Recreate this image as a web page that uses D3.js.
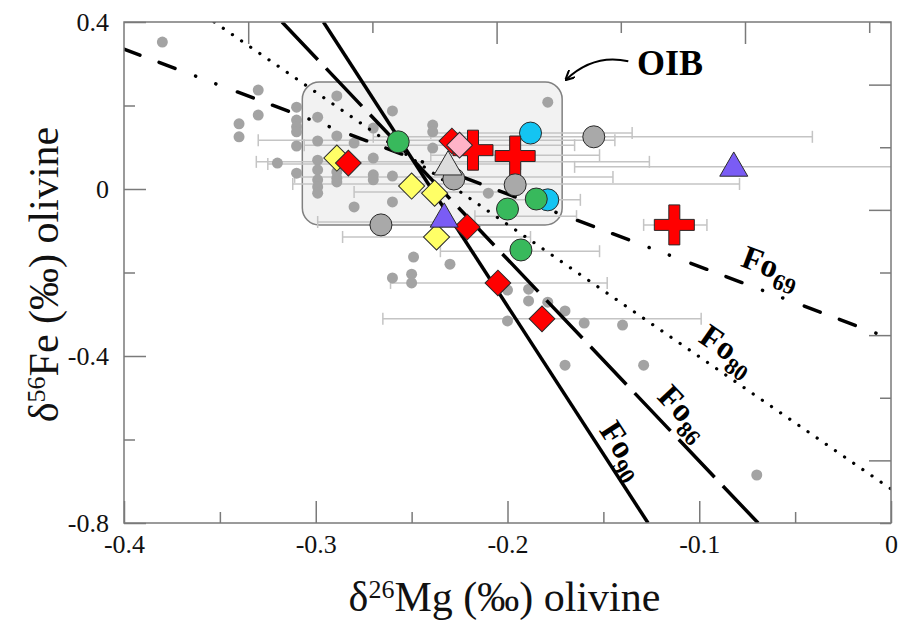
<!DOCTYPE html>
<html>
<head>
<meta charset="utf-8">
<script src="https://cdn.jsdelivr.net/npm/d3@7"></script>
<style>
  body { margin: 0; background: #fff; }
  text { font-family: "Liberation Serif", "Times New Roman", serif; }
</style>
</head>
<body>
<div id="chart"></div>
<script>
// ticks
const xTicksMajor = [-0.4, -0.3, -0.2, -0.1, 0];
const xTicksMinor = [-0.35, -0.25, -0.15, -0.05];
const yTicksMajor = [0.4, 0, -0.4, -0.8];
const yTicksMinor = [0.2, -0.2, -0.6];
// the top and right frame carry their own (unlabelled) tick scales
const topTicksMajor = [1, 3, 5];
const topTicksMinor = [2, 4, 6];
const rightTicksMajor = [1, 3, 5, 7];
const rightTicksMinor = [0, 2, 4, 6, 8];

// OIB field [x0, x1, y0, y1]
const oibBox = [-0.307, -0.1715, -0.086, 0.256];

// background olivine data (small grey dots) [d26Mg, d56Fe]
const bgDots = [
  [-0.380, 0.352], [-0.330, 0.237], [-0.330, 0.177], [-0.340, 0.156], [-0.340, 0.125],
  [-0.310, 0.196], [-0.310, 0.165], [-0.310, 0.149], [-0.310, 0.137], [-0.310, 0.103],
  [-0.299, 0.172], [-0.289, 0.223], [-0.299, 0.115], [-0.289, 0.127], [-0.270, 0.146],
  [-0.260, 0.187], [-0.320, 0.062], [-0.310, 0.038], [-0.299, 0.069], [-0.299, 0.046],
  [-0.299, 0.022], [-0.299, 0.005], [-0.299, -0.010], [-0.289, 0.041], [-0.289, 0.026],
  [-0.289, 0.017], [-0.270, 0.074], [-0.270, 0.034], [-0.270, 0.022], [-0.260, 0.031],
  [-0.239, 0.153], [-0.239, 0.137], [-0.239, 0.098], [-0.280, 0.110], [-0.280, -0.043],
  [-0.260, -0.031], [-0.179, 0.208], [-0.210, -0.010], [-0.249, -0.163], [-0.250, -0.204],
  [-0.250, -0.225], [-0.260, -0.213], [-0.230, -0.180], [-0.200, -0.316], [-0.189, -0.240],
  [-0.189, -0.268], [-0.179, -0.271], [-0.170, -0.292], [-0.160, -0.321], [-0.140, -0.326],
  [-0.170, -0.422], [-0.129, -0.422], [-0.070, -0.685], [-0.200, -0.242]
];

// horizontal 2SD error bars [d56Fe, d26Mg low, d26Mg high]
const errBars = [
  [0.125, -0.270, -0.041], [0.134, -0.240, -0.135], [0.117, -0.330, -0.144],
  [0.105, -0.306, -0.165], [0.081, -0.240, -0.152], [0.065, -0.331, -0.126],
  [0.053, -0.165, 0.010], [0.060, -0.325, -0.193], [0.029, -0.311, -0.145],
  [0.012, -0.312, -0.079], [-0.007, -0.280, -0.196], [-0.026, -0.197, -0.162],
  [-0.065, -0.217, -0.164], [-0.079, -0.299, -0.234], [-0.115, -0.286, -0.188],
  [-0.149, -0.235, -0.152], [-0.225, -0.261, -0.148], [-0.311, -0.265, -0.099],
  [-0.086, -0.129, -0.096]
];

// sample groups [d26Mg, d56Fe]
const greyCircles = [[-0.155, 0.125], [-0.228, 0.024], [-0.196, 0.010], [-0.266, -0.086]];
const greenCircles = [[-0.257, 0.113], [-0.185, -0.024], [-0.200, -0.048], [-0.193, -0.146]];
const cyanCircles = [[-0.188, 0.134], [-0.179, -0.026]];
const redDiamonds = [[-0.283, 0.062], [-0.229, 0.115], [-0.221, -0.091], [-0.205, -0.225], [-0.182, -0.311]];
const yellowDiamonds = [[-0.289, 0.074], [-0.250, 0.007], [-0.238, -0.010], [-0.237, -0.115]];
const pinkDiamonds = [[-0.225, 0.105]];
const redCrosses = [[-0.218, 0.093], [-0.196, 0.079], [-0.113, -0.086]];
const purpleTriangles = [[-0.233, -0.072], [-0.082, 0.050]];
const paleTriangles = [[-0.231, 0.053]];

// equilibrium lines, named by Fo content [x1, y1, x2, y2]
const foNames = ["90", "86", "80", "69"];
const foLines = [
  [-0.296, 0.4, -0.1267, -0.8],
  [-0.3176, 0.4, -0.0693, -0.8],
  [-0.353, 0.4, 0, -0.7186],
  [-0.4, 0.335, 0, -0.359]
];
// label anchor (start of "Fo") for each line
const foLabelAt = [[-0.1525, -0.578], [-0.1225, -0.500], [-0.1010, -0.364], [-0.0790, -0.184]];

const margin = { top: 22, right: 9, bottom: 97, left: 124 };
const width = 900 - margin.left - margin.right;
const height = 620 - margin.top - margin.bottom;

const svg = d3.select("#chart").append("svg")
  .attr("width", 900)
  .attr("height", 620);

const g = svg.append("g")
  .attr("transform", `translate(${margin.left},${margin.top})`);

const x = d3.scaleLinear().domain([-0.4, 0]).range([0, width]);
const y = d3.scaleLinear().domain([-0.8, 0.4]).range([height, 0]);
const xTop = d3.scaleLinear().domain([0, width / 124.2]).range([0, width]);
const yRight = d3.scaleLinear().domain([0, 8]).range([0, height]);

g.append("clipPath").attr("id", "plotClip")
  .append("rect").attr("width", width).attr("height", height);

const axisGrey = "#7a7a7a";

// OIB field
g.append("rect")
  .attr("x", x(oibBox[0]))
  .attr("y", y(oibBox[3]))
  .attr("width", x(oibBox[1]) - x(oibBox[0]))
  .attr("height", y(oibBox[2]) - y(oibBox[3]))
  .attr("rx", 17)
  .style("fill", "#f2f2f2")
  .style("stroke", "#808080")
  .style("stroke-width", 1.5);

// error bars
const plot = g.append("g").attr("clip-path", "url(#plotClip)");
const bars = plot.selectAll(".err").data(errBars).enter().append("g")
  .attr("class", "err")
  .style("stroke", "#c4c4c4")
  .style("stroke-width", 1.5);
bars.append("line")
  .attr("x1", d => x(d[1])).attr("x2", d => x(d[2]))
  .attr("y1", d => y(d[0])).attr("y2", d => y(d[0]));
bars.append("line")
  .attr("x1", d => x(d[1])).attr("x2", d => x(d[1]))
  .attr("y1", d => y(d[0]) - 6).attr("y2", d => y(d[0]) + 6);
bars.append("line")
  .attr("x1", d => x(d[2])).attr("x2", d => x(d[2]))
  .attr("y1", d => y(d[0]) - 6).attr("y2", d => y(d[0]) + 6);

// small grey dots
plot.selectAll(".bg").data(bgDots).enter().append("circle")
  .attr("class", "bg")
  .attr("cx", d => x(d[0]))
  .attr("cy", d => y(d[1]))
  .attr("r", 5.5)
  .style("fill", "#a3a3a3");

// Fo lines
const foStyle = {
  "90": { w: 3.5, dash: null, cap: "butt" },
  "86": { w: 3.5, dash: "52,12", cap: "butt" },
  "80": { w: 3.2, dash: "0.1,11", cap: "round" },
  "69": { w: 3.5, dash: "17,20.5,17,22,0.1,21.5,0.1,23", cap: "round" }
};
plot.selectAll(".fo").data(foLines).enter().append("line")
  .attr("class", "fo")
  .attr("x1", d => x(d[0])).attr("y1", d => y(d[1]))
  .attr("x2", d => x(d[2])).attr("y2", d => y(d[3]))
  .style("stroke", "#000")
  .style("stroke-width", (d, i) => foStyle[foNames[i]].w)
  .style("stroke-dasharray", (d, i) => foStyle[foNames[i]].dash)
  .style("stroke-linecap", (d, i) => foStyle[foNames[i]].cap);

// Fo labels, rotated to follow their line
foLabelAt.forEach((p, i) => {
  const l = foLines[i];
  const ang = Math.atan2(y(l[3]) - y(l[1]), x(l[2]) - x(l[0])) * 180 / Math.PI;
  const t = g.append("text")
    .attr("transform", `translate(${x(p[0])},${y(p[1])}) rotate(${ang})`)
    .style("font-size", "33px")
    .style("font-weight", "bold");
  t.append("tspan").text("Fo");
  t.append("tspan").attr("dy", 9).style("font-size", "23px").text(foNames[i]);
});

// markers
function addCircles(data, fill) {
  g.selectAll(null).data(data).enter().append("circle")
    .attr("cx", d => x(d[0])).attr("cy", d => y(d[1]))
    .attr("r", 11)
    .style("fill", fill).style("stroke", "#2a2a2a").style("stroke-width", 1);
}
function addSymbols(data, type, size, rot, fill) {
  g.selectAll(null).data(data).enter().append("path")
    .attr("d", d3.symbol().type(type).size(size))
    .attr("transform", d => `translate(${x(d[0])},${y(d[1])}) rotate(${rot})`)
    .style("fill", fill).style("stroke", "#2a2a2a").style("stroke-width", 1);
}
function crossPath(a, b) {
  return `M${-b},${-a}H${b}V${-b}H${a}V${b}H${b}V${a}H${-b}V${b}H${-a}V${-b}H${-b}Z`;
}

addCircles(greyCircles.slice(0, 1), "#a9a9a9");
addCircles(cyanCircles, "#14c4f2");
addSymbols(yellowDiamonds.slice(0, 1), d3.symbolSquare, 340, 45, "#ffff66");
addSymbols(redDiamonds, d3.symbolSquare, 330, 45, "#ff0000");
g.selectAll(null).data(redCrosses).enter().append("path")
  .attr("d", crossPath(20, 5.5))
  .attr("transform", d => `translate(${x(d[0])},${y(d[1])})`)
  .style("fill", "#ff0000").style("stroke", "#2a2a2a").style("stroke-width", 1);
addSymbols(pinkDiamonds, d3.symbolSquare, 330, 45, "#ffb3c8");
addCircles(greyCircles.slice(1), "#a9a9a9");
addSymbols(paleTriangles, d3.symbolTriangle, 340, 0, "#dcdcdc");
addCircles(greenCircles, "#38b95c");
addSymbols(yellowDiamonds.slice(1), d3.symbolSquare, 340, 45, "#ffff66");
addSymbols(purpleTriangles, d3.symbolTriangle, 340, 0, "#7a5cf5");

// axes: ticks point inward
function styleAxis(sel) {
  sel.select(".domain").remove();
  sel.selectAll(".tick line").style("stroke", axisGrey).style("stroke-width", 1.5);
  sel.selectAll(".tick text")
    .style("font-family", "'Liberation Serif', serif")
    .style("font-size", "26px")
    .style("fill", "#111");
}
// plain hyphen for negatives, as in the original
const fmt = d => d === 0 ? "0" : d.toFixed(1);

g.append("g").attr("transform", `translate(0,${height})`)
  .call(d3.axisBottom(x).tickValues(xTicksMajor).tickSize(-22).tickPadding(12).tickFormat(fmt))
  .call(styleAxis);
g.append("g").attr("transform", `translate(0,${height})`)
  .call(d3.axisBottom(x).tickValues(xTicksMinor).tickSize(-11).tickFormat(""))
  .call(styleAxis);
g.append("g")
  .call(d3.axisLeft(y).tickValues(yTicksMajor).tickSize(-22).tickPadding(15).tickFormat(fmt))
  .call(styleAxis);
g.append("g")
  .call(d3.axisLeft(y).tickValues(yTicksMinor).tickSize(-11).tickFormat(""))
  .call(styleAxis);
g.append("g")
  .call(d3.axisTop(xTop).tickValues(topTicksMajor).tickSize(-22).tickFormat(""))
  .call(styleAxis);
g.append("g")
  .call(d3.axisTop(xTop).tickValues(topTicksMinor).tickSize(-11).tickFormat(""))
  .call(styleAxis);
g.append("g").attr("transform", `translate(${width},0)`)
  .call(d3.axisRight(yRight).tickValues(rightTicksMajor).tickSize(-22).tickFormat(""))
  .call(styleAxis);
g.append("g").attr("transform", `translate(${width},0)`)
  .call(d3.axisRight(yRight).tickValues(rightTicksMinor).tickSize(-11).tickFormat(""))
  .call(styleAxis);

g.append("rect")
  .attr("width", width).attr("height", height)
  .style("fill", "none").style("stroke", axisGrey).style("stroke-width", 1.5);

// axis titles
const xTitle = g.append("text")
  .attr("x", width / 2 - 3).attr("y", height + 88)
  .attr("text-anchor", "middle")
  .style("font-size", "42px").style("fill", "#111");
xTitle.append("tspan").text("δ");
xTitle.append("tspan").attr("dy", -13).style("font-size", "26px").text("26");
xTitle.append("tspan").attr("dy", 13).text("Mg (‰) olivine");

const yTitle = g.append("text")
  .attr("transform", `translate(${-66},${height / 2 + 2}) rotate(-90)`)
  .attr("text-anchor", "middle")
  .style("font-size", "42px").style("fill", "#111");
yTitle.append("tspan").text("δ");
yTitle.append("tspan").attr("dy", -13).style("font-size", "26px").text("56");
yTitle.append("tspan").attr("dy", 13).text("Fe (‰) olivine");

// OIB callout
svg.append("defs").append("marker")
  .attr("id", "arrowHead")
  .attr("viewBox", "0 0 10 10")
  .attr("refX", 9).attr("refY", 5)
  .attr("markerWidth", 5).attr("markerHeight", 5)
  .attr("orient", "auto")
  .append("path")
  .attr("d", "M0,0L10,5L0,10")
  .style("fill", "none").style("stroke", "#000").style("stroke-width", 2);

g.append("path")
  .attr("d", `M${x(-0.137)},${y(0.306)} Q${x(-0.155)},${y(0.325)} ${x(-0.1695)},${y(0.262)}`)
  .style("fill", "none").style("stroke", "#000").style("stroke-width", 2)
  .attr("marker-end", "url(#arrowHead)");

g.append("text")
  .attr("x", x(-0.1325)).attr("y", y(0.273))
  .style("font-size", "36px").style("font-weight", "bold")
  .text("OIB");
</script>
</body>
</html>
